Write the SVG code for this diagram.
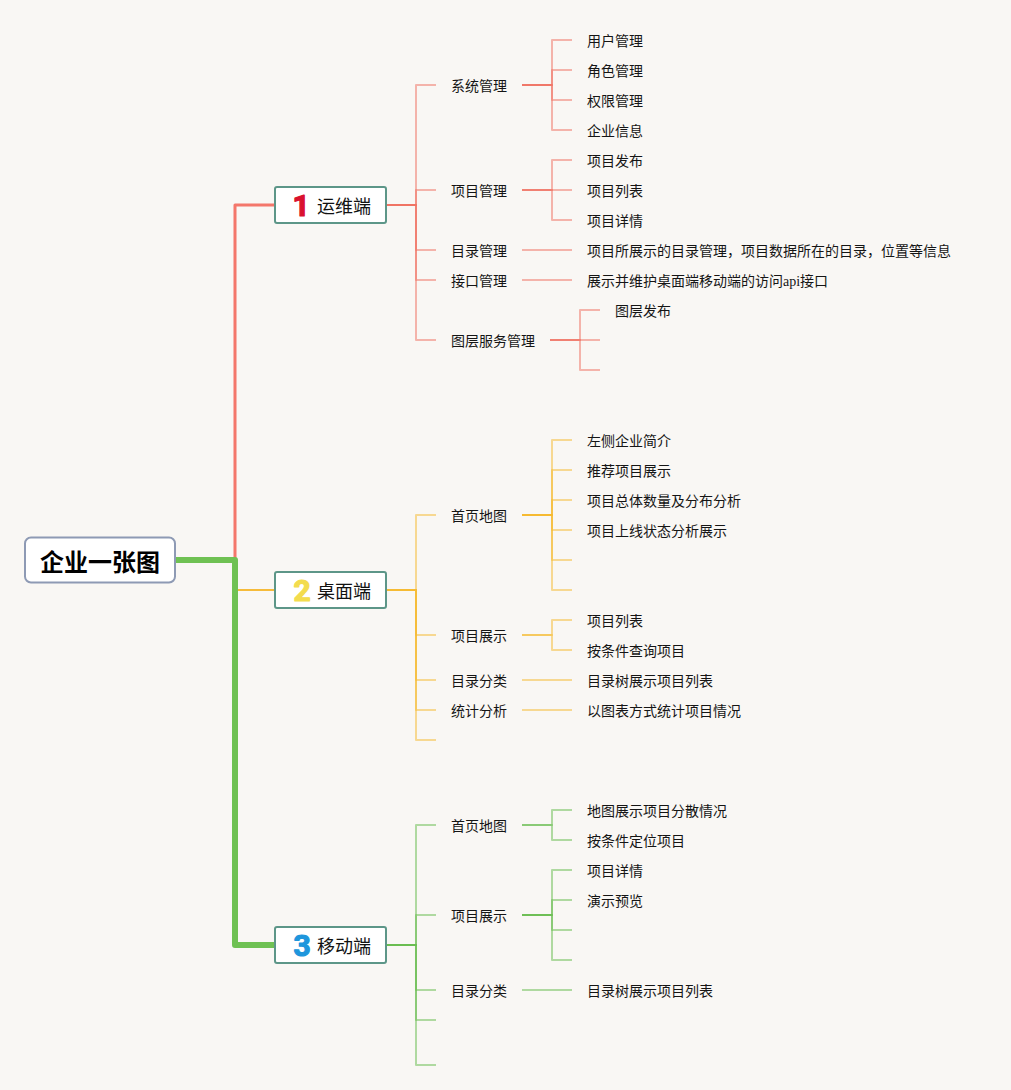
<svg xmlns="http://www.w3.org/2000/svg" width="1011" height="1090" viewBox="0 0 1011 1090">
<defs><style>
text{font-family:"Noto Sans CJK SC","Noto Sans",sans-serif;fill:#151515;font-size:14px}
path{fill:none;stroke-width:2;stroke-opacity:.5;stroke-linejoin:round}
.r path{stroke:#ef6f60}
.y path{stroke:#f6b92e}
.g path{stroke:#66bb4c}
.box{fill:#fff;stroke:#5d9688;stroke-width:2}
.h{font-size:18px;fill:#111}
.n{font-family:"Roboto",sans-serif;font-size:30px;font-weight:700;text-anchor:middle;stroke-width:1.2;stroke-linejoin:round}
</style></defs>
<rect width="1011" height="1090" fill="#f9f7f4"/>
<g id="connectors">
<path style="stroke:#f4776b;stroke-width:3;stroke-opacity:1" d="M235 560V205H275"/>
<path style="stroke:#f6bb3a;stroke-opacity:1" d="M235 590H275"/>
<path style="stroke:#6fc153;stroke-width:6;stroke-opacity:1" d="M175 560H235V945H275"/>
<g class="r">
<path d="M386 205H416V85H436"/><path d="M386 205H416V190H436"/><path d="M386 205H416V250H436"/><path d="M386 205H416V280H436"/><path d="M386 205H416V340H436"/>
<path d="M522 85H552V40H572"/><path d="M522 85H552V70H572"/><path d="M522 85H552V100H572"/><path d="M522 85H552V130H572"/>
<path d="M522 190H552V160H572"/><path d="M522 190H572"/><path d="M522 190H552V220H572"/>
<path d="M522 250H572"/><path d="M522 280H572"/>
<path d="M550 340H580V310H600"/><path d="M550 340H600"/><path d="M550 340H580V370H600"/>
</g>
<g class="y">
<path d="M386 590H416V515H436"/><path d="M386 590H416V635H436"/><path d="M386 590H416V680H436"/><path d="M386 590H416V710H436"/><path d="M386 590H416V740H436"/>
<path d="M522 515H552V440H572"/><path d="M522 515H552V470H572"/><path d="M522 515H552V500H572"/><path d="M522 515H552V530H572"/><path d="M522 515H552V560H572"/><path d="M522 515H552V590H572"/>
<path d="M522 635H552V620H572"/><path d="M522 635H552V650H572"/>
<path d="M522 680H572"/><path d="M522 710H572"/>
</g>
<g class="g">
<path d="M386 945H416V825H436"/><path d="M386 945H416V915H436"/><path d="M386 945H416V990H436"/><path d="M386 945H416V1020H436"/><path d="M386 945H416V1065H436"/>
<path d="M522 825H552V810H572"/><path d="M522 825H552V840H572"/>
<path d="M522 915H552V870H572"/><path d="M522 915H552V900H572"/><path d="M522 915H552V930H572"/><path d="M522 915H552V960H572"/>
<path d="M522 990H572"/>
</g>
</g>
<g id="root"><rect x="25" y="537.500" width="150" height="45" rx="6" fill="#fff" stroke="#8e9ab4" stroke-width="2"/><text x="100" y="571" text-anchor="middle" style="font-size:24px;font-weight:700;fill:#000">企业一张图</text></g>
<g id="node-ops"><rect class="box" x="275" y="187" width="111" height="36" rx="2"/><text class="n" x="301" y="216" style="fill:#d9112e;stroke:#d9112e">1</text><text class="h" x="317" y="213">运维端</text></g>
<g id="node-desktop"><rect class="box" x="275" y="572" width="111" height="36" rx="2"/><text class="n" x="302" y="601" style="fill:#f3dc4e;stroke:#f3dc4e">2</text><text class="h" x="317" y="598">桌面端</text></g>
<g id="node-mobile"><rect class="box" x="275" y="927" width="111" height="36" rx="2"/><text class="n" x="302" y="956" style="fill:#1e96dc;stroke:#1e96dc">3</text><text class="h" x="317" y="953">移动端</text></g>
<g id="ops-l2">
<text x="451" y="91">系统管理</text><text x="451" y="196">项目管理</text><text x="451" y="256">目录管理</text><text x="451" y="286">接口管理</text><text x="451" y="346">图层服务管理</text>
</g>
<g id="ops-l3">
<text x="587" y="46">用户管理</text><text x="587" y="76">角色管理</text><text x="587" y="106">权限管理</text><text x="587" y="136">企业信息</text>
<text x="587" y="166">项目发布</text><text x="587" y="196">项目列表</text><text x="587" y="226">项目详情</text>
<text x="587" y="256">项目所展示的目录管理，项目数据所在的目录，位置等信息</text>
<text x="587" y="286">展示并维护桌面端移动端的访问<tspan style="font-family:'Liberation Serif',serif">api</tspan>接口</text>
<text x="615" y="316">图层发布</text>
</g>
<g id="desktop-l2">
<text x="451" y="521">首页地图</text><text x="451" y="641">项目展示</text><text x="451" y="686">目录分类</text><text x="451" y="716">统计分析</text>
</g>
<g id="desktop-l3">
<text x="587" y="446">左侧企业简介</text><text x="587" y="476">推荐项目展示</text><text x="587" y="506">项目总体数量及分布分析</text><text x="587" y="536">项目上线状态分析展示</text>
<text x="587" y="626">项目列表</text><text x="587" y="656">按条件查询项目</text><text x="587" y="686">目录树展示项目列表</text><text x="587" y="716">以图表方式统计项目情况</text>
</g>
<g id="mobile-l2">
<text x="451" y="831">首页地图</text><text x="451" y="921">项目展示</text><text x="451" y="996">目录分类</text>
</g>
<g id="mobile-l3">
<text x="587" y="816">地图展示项目分散情况</text><text x="587" y="846">按条件定位项目</text><text x="587" y="876">项目详情</text><text x="587" y="906">演示预览</text><text x="587" y="996">目录树展示项目列表</text>
</g>
</svg>
